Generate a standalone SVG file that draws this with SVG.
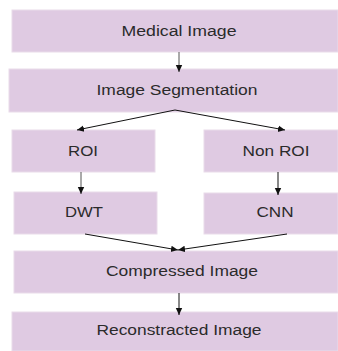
<svg xmlns="http://www.w3.org/2000/svg" width="338" height="351" viewBox="0 0 338 351">
<style>
.box{fill:#dfcae2;stroke:#e9dcea;stroke-width:1}
.lbl{font-family:"Liberation Sans",Arial,sans-serif;font-size:14px;fill:#2b2b2b;text-anchor:middle}
.ln{fill:none;stroke:#111;stroke-width:1}
.lg{fill:none;stroke:#555;stroke-width:1}
</style>
<defs>
<marker id="ah" markerWidth="8" markerHeight="8" refX="7" refY="4" orient="auto" markerUnits="userSpaceOnUse">
<path d="M0,0.8 L7,4 L0,7.2 Z" fill="#111"/>
</marker>
</defs>
<rect width="338" height="351" fill="#fff"/>
<g id="medical-image"><rect class="box" x="12" y="10" width="326" height="42"/><text class="lbl" x="179" y="36" textLength="115" lengthAdjust="spacingAndGlyphs">Medical Image</text></g>
<g id="image-segmentation"><rect class="box" x="9" y="69" width="329" height="43"/><text class="lbl" x="177" y="95" textLength="161" lengthAdjust="spacingAndGlyphs">Image Segmentation</text></g>
<g id="roi"><rect class="box" x="12" y="130" width="143" height="42"/><text class="lbl" x="83" y="156" textLength="30" lengthAdjust="spacingAndGlyphs">ROI</text></g>
<g id="non-roi"><rect class="box" x="204" y="130" width="134" height="42"/><text class="lbl" x="276" y="156" textLength="67" lengthAdjust="spacingAndGlyphs">Non ROI</text></g>
<g id="dwt"><rect class="box" x="14" y="192" width="143" height="42"/><text class="lbl" x="84" y="217" textLength="38" lengthAdjust="spacingAndGlyphs">DWT</text></g>
<g id="cnn"><rect class="box" x="204" y="193" width="134" height="41"/><text class="lbl" x="275" y="217" textLength="37" lengthAdjust="spacingAndGlyphs">CNN</text></g>
<g id="compressed-image"><rect class="box" x="14" y="251" width="324" height="42"/><text class="lbl" x="182" y="276" textLength="152" lengthAdjust="spacingAndGlyphs">Compressed Image</text></g>
<g id="reconstracted-image"><rect class="box" x="12" y="312" width="326" height="39"/><text class="lbl" x="179" y="335" textLength="165" lengthAdjust="spacingAndGlyphs">Reconstracted Image</text></g>
<g id="connectors">
<line class="lg" x1="179" y1="52" x2="179" y2="72" marker-end="url(#ah)"/>
<line class="ln" x1="175" y1="110" x2="77" y2="130" marker-end="url(#ah)"/>
<line class="ln" x1="175" y1="110" x2="285" y2="130" marker-end="url(#ah)"/>
<line class="lg" x1="81" y1="172" x2="81" y2="194" marker-end="url(#ah)"/>
<line class="ln" x1="278" y1="172" x2="278" y2="195" marker-end="url(#ah)"/>
<line class="ln" x1="85" y1="234" x2="178" y2="250" marker-end="url(#ah)"/>
<line class="ln" x1="287" y1="234" x2="178" y2="250" marker-end="url(#ah)"/>
<line class="ln" x1="179" y1="293" x2="179" y2="315" marker-end="url(#ah)"/>
</g>
</svg>
